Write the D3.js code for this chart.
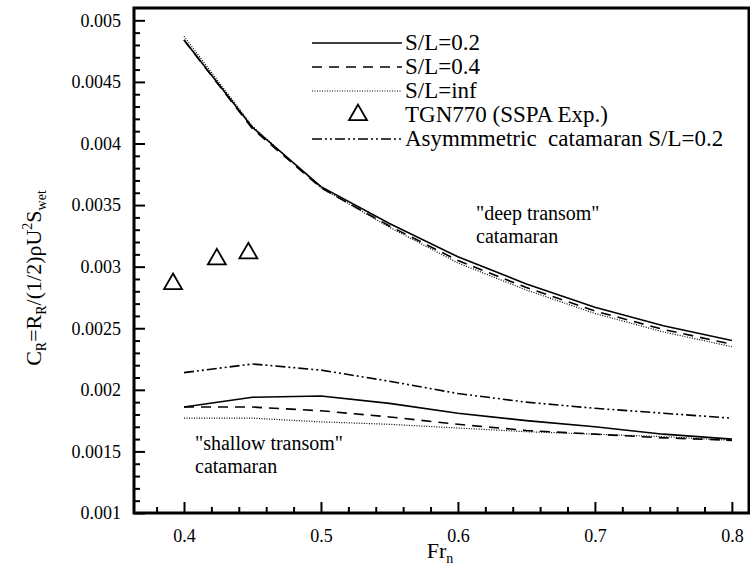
<!DOCTYPE html>
<html>
<head>
<meta charset="utf-8">
<script src="https://cdn.jsdelivr.net/npm/d3@7"></script>
<style>
 body { margin:0; background:#fff; }
 svg text { font-family: "Liberation Serif", "Times New Roman", serif !important; fill:#000; white-space: pre; }
</style>
</head>
<body>
<div class="chart"></div>
<script>
// Froude numbers of the computed points
var fr = [0.4, 0.45, 0.5, 0.55, 0.6, 0.65, 0.7, 0.75, 0.8];

// "deep transom" catamaran
var deep02  = [0.00484, 0.00413, 0.00365, 0.00335, 0.00308, 0.00286, 0.00267, 0.00252, 0.00240];
var deep04  = [0.00484, 0.00412, 0.00364, 0.00333, 0.00305, 0.00283, 0.00264, 0.00249, 0.00237];
var deepInf = [0.00487, 0.00414, 0.00364, 0.00332, 0.00303, 0.00281, 0.00262, 0.00247, 0.00235];

// "shallow transom" catamaran
var shal02  = [0.00186, 0.00194, 0.00195, 0.00189, 0.00181, 0.00175, 0.00170, 0.00164, 0.00160];
var shal04  = [0.00186, 0.00186, 0.00183, 0.00178, 0.00172, 0.00167, 0.00164, 0.00161, 0.00159];
var shalInf = [0.00177, 0.00177, 0.00174, 0.00172, 0.00169, 0.00166, 0.00164, 0.00162, 0.00159];

// asymmetric catamaran S/L=0.2
var asym02  = [0.00214, 0.00221, 0.00216, 0.00207, 0.00197, 0.00190, 0.00185, 0.00181, 0.00177];

// TGN770 experiment
var expFr = [0.392, 0.424, 0.447];
var expCr = [0.00286, 0.00306, 0.00311];

var xMajor = [0.4, 0.5, 0.6, 0.7, 0.8];
var yMajor = [0.001, 0.0015, 0.002, 0.0025, 0.003, 0.0035, 0.004, 0.0045, 0.005];

var legendNames = ["S/L=0.2", "S/L=0.4", "S/L=inf", "TGN770 (SSPA Exp.)", "Asymmmetric  catamaran S/L=0.2"];

var W = 750, H = 567;
var mLeft = 134, mRight = 749, mTop = 8, mBottom = 513;
var serif = "'Liberation Serif', 'Times New Roman', serif";

var svg = d3.select(".chart").append("svg")
    .attr("width", W)
    .attr("height", H);

var x = d3.scaleLinear().domain([0.3635, 0.8125]).range([mLeft, mRight]);
var y = d3.scaleLinear().domain([0.001, 0.0051]).range([mBottom, mTop]);

// minor ticks
var xMinor = d3.range(0.38, 0.81, 0.02).filter(function(d){ return Math.abs(Math.round(d*10) - d*10) > 0.01; });
var yMinor = d3.range(0.0011, 0.0051, 0.0001).filter(function(d){ return Math.abs(Math.round(d*2000) - d*2000) > 0.01; });

svg.append("g")
    .attr("transform", "translate(0," + mBottom + ")")
    .call(d3.axisBottom(x).tickValues(xMinor).tickSize(-6).tickFormat(""))
    .call(function(g){ g.select(".domain").remove(); });
svg.append("g")
    .attr("transform", "translate(0," + mBottom + ")")
    .call(d3.axisBottom(x).tickValues(xMajor).tickSizeInner(-11).tickSizeOuter(0).tickPadding(16)
        .tickFormat(function(d){ return d.toFixed(1); }))
    .call(function(g){ g.select(".domain").remove(); });

svg.append("g")
    .attr("transform", "translate(" + mLeft + ",0)")
    .call(d3.axisLeft(y).tickValues(yMinor).tickSize(-6).tickFormat(""))
    .call(function(g){ g.select(".domain").remove(); });
svg.append("g")
    .attr("transform", "translate(" + mLeft + ",0)")
    .call(d3.axisLeft(y).tickValues(yMajor).tickSizeInner(-11).tickSizeOuter(0).tickPadding(13)
        .tickFormat(function(d){ return String(+d.toFixed(4)); }))
    .call(function(g){ g.select(".domain").remove(); });

svg.selectAll("g").attr("font-family", serif);
svg.selectAll(".tick line").attr("stroke", "#000").attr("stroke-width", 2);
svg.selectAll(".tick text").style("font-size", "18px").style("font-family", serif).attr("fill", "#000");

// frame
svg.append("rect")
    .attr("x", mLeft).attr("y", mTop)
    .attr("width", mRight - mLeft).attr("height", mBottom - mTop)
    .attr("fill", "none").attr("stroke", "#000").attr("stroke-width", 3);

var line = d3.line()
    .x(function(d){ return x(d[0]); })
    .y(function(d){ return y(d[1]); });

function curve(vals, dash, sw) {
  svg.append("path")
     .attr("d", line(fr.map(function(f, i){ return [f, vals[i]]; })))
     .attr("fill", "none")
     .attr("stroke", "#000")
     .attr("stroke-width", sw)
     .attr("stroke-dasharray", dash);
}

var solid = null, dashed = "10,7", dotted = "1,1.5", dashdot = "10,3,2,3,2,3";

curve(deepInf, dotted, 1.2);
curve(deep04, dashed, 1.6);
curve(deep02, solid, 1.6);
curve(shalInf, dotted, 1.2);
curve(shal04, dashed, 1.6);
curve(shal02, solid, 1.6);
curve(asym02, dashdot, 1.6);

var tri = d3.symbol().type(d3.symbolTriangle).size(140);
svg.selectAll(".exp")
    .data(expFr)
    .enter().append("path")
    .attr("class", "exp")
    .attr("d", tri)
    .attr("transform", function(d, i){ return "translate(" + x(d) + "," + y(expCr[i]) + ")"; })
    .attr("fill", "none").attr("stroke", "#000").attr("stroke-width", 1.8);

// legend
var legY = [43, 67, 91, 115, 139];
var legDash = [solid, dashed, dotted, "tri", dashdot];
legendNames.forEach(function(name, i) {
  if (legDash[i] == "tri") {
    svg.append("path").attr("d", tri)
       .attr("transform", "translate(358," + legY[i] + ")")
       .attr("fill", "none").attr("stroke", "#000").attr("stroke-width", 1.8);
  } else {
    svg.append("line")
       .attr("x1", 312).attr("x2", 402).attr("y1", legY[i]).attr("y2", legY[i])
       .attr("stroke", "#000").attr("stroke-width", legDash[i] == dotted ? 1.2 : 1.6)
       .attr("stroke-dasharray", legDash[i]);
  }
  svg.append("text")
     .attr("x", 405).attr("y", legY[i] + 7)
     .style("font-size", "23px")
     .text(name);
});

// annotations
function note(x0, y0, lines) {
  lines.forEach(function(t, i) {
    svg.append("text").attr("x", x0).attr("y", y0 + i * 23)
       .style("font-size", "20px").text(t);
  });
}
note(476, 220, ["\"deep transom\"", "catamaran"]);
note(195, 450, ["\"shallow transom\"", "catamaran"]);

// axis titles
var xt = svg.append("text")
    .attr("x", 440).attr("y", 558)
    .attr("text-anchor", "middle")
    .style("font-size", "22px");
xt.append("tspan").text("Fr");
xt.append("tspan").attr("dy", 5).style("font-size", "14px").text("n");

var yt = svg.append("text")
    .attr("transform", "translate(41,278) rotate(-90)")
    .attr("text-anchor", "middle")
    .style("font-size", "22px");
yt.append("tspan").text("C");
yt.append("tspan").attr("dy", 5).style("font-size", "14px").text("R");
yt.append("tspan").attr("dy", -5).text("=R");
yt.append("tspan").attr("dy", 5).style("font-size", "14px").text("R");
yt.append("tspan").attr("dy", -5).text("/(1/2)ρU");
yt.append("tspan").attr("dy", -9).style("font-size", "14px").text("2");
yt.append("tspan").attr("dy", 9).text("S");
yt.append("tspan").attr("dy", 5).style("font-size", "14px").text("wet");
</script>
</body>
</html>
